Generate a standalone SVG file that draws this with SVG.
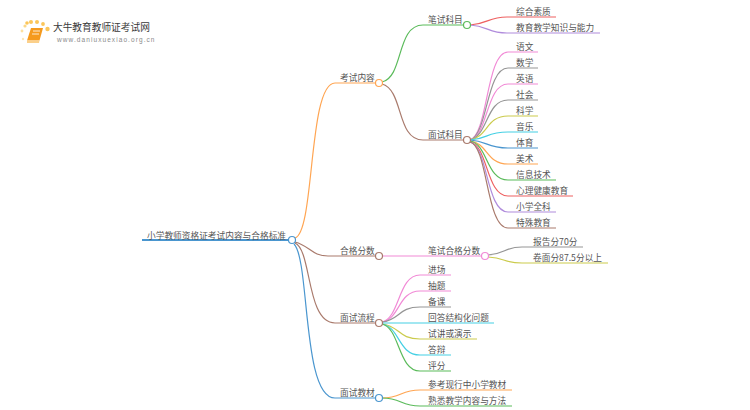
<svg xmlns="http://www.w3.org/2000/svg" width="750" height="410" viewBox="0 0 750 410">
<style>
text{font-family:"Noto Sans CJK SC","Noto Sans",sans-serif;font-size:8.7px;fill:#555}
.c path{fill:none;stroke-width:1.2}
circle{fill:#fff;stroke-width:1.2}
.or{stroke:#ffa552}.gr{stroke:#5bbb5b}.br{stroke:#a97a6c}.bl{stroke:#4a96cf}.re{stroke:#ee6060}.pu{stroke:#b08cdc}.pk{stroke:#f18ad6}.gy{stroke:#959595}.ol{stroke:#cbcb4c}.cy{stroke:#45d0e4}
</style>
<rect width="750" height="410" fill="#fff"/>
<g id="logo">
<circle cx="25" cy="26" r="1.6" style="fill:#fbd888;stroke:none"/><circle cx="22" cy="31" r="1.4" style="fill:#fce0a0;stroke:none"/><circle cx="27" cy="23" r="1.8" style="fill:#fbc65a;stroke:none"/><circle cx="31" cy="22" r="2" style="fill:#fbc65a;stroke:none"/><circle cx="37" cy="22" r="2" style="fill:#fbc65a;stroke:none"/><circle cx="43" cy="24" r="1.9" style="fill:#fbc65a;stroke:none"/><circle cx="47.500" cy="29" r="2.200" style="fill:#fbc65a;stroke:none"/><circle cx="23" cy="39" r="1.200" style="fill:#fde6b8;stroke:none"/>
<path d="M31 28H43L39.500 40.500H27Z" fill="#f59a1e"/>
<path d="M27 40.500L27 43H39L39.500 40.500Z" fill="#fbd08a"/>
<path d="M33 31H40M32 34H39" stroke="#fff" stroke-width="0.800"/>
<text x="53" y="31" style="font-size:9.700px;fill:#3a3a3a">大牛教育教师证考试网</text>
<text x="57" y="41.500" style="font-family:'Liberation Sans',sans-serif;font-size:6.500px;letter-spacing:1.080px;fill:#8a8a8a">www.daniuxuexiao.org.cn</text>
</g>
<g id="connectors" class="c">
<path class="bl" style="stroke-width:1.800" d="M142 240H288"/>
<path class="or" d="M295 238C315 232 308 83 335 83H376"/>
<path class="br" d="M295 242C310 246 312 256 328 256H376"/>
<path class="br" d="M295 243C312 250 306 323 335 323H376"/>
<path class="bl" d="M294 244C310 260 302 398 335 398H376"/>
<path class="gr" d="M382 82C404 77 396 25 423 25H464"/>
<path class="br" d="M382 84C404 90 396 140 423 140H464"/>
<path class="re" d="M470 25C488 24 488 17 507 17H556"/>
<path class="pu" d="M470 25C488 26 488 33 507 33H600"/>
<path class="pk" d="M470 140C488 135 486 52 508 52H538"/>
<path class="gy" d="M470 140C488 135 486 68 508 68H538"/>
<path class="pk" d="M470 140C488 136 486 84 508 84H538"/>
<path class="gy" d="M470 140C488 136 486 100 508 100H538"/>
<path class="ol" d="M470 140C488 137 486 116 508 116H538"/>
<path class="cy" d="M470 140C488 139 486 132 508 132H538"/>
<path class="bl" d="M470 140C488 141 486 148 508 148H538"/>
<path class="or" d="M470 141C488 143 486 164 508 164H538"/>
<path class="gr" d="M470 141C488 144 486 180 508 180H556"/>
<path class="re" d="M470 142C488 145 486 196 508 196H573"/>
<path class="pu" d="M470 142C488 146 486 212 508 212H556"/>
<path class="br" d="M470 142C488 146 486 228 508 228H556"/>
<path class="pk" d="M382 256H481"/>
<path class="gy" d="M488 255C506 254 504 247 522 247H583"/>
<path class="ol" d="M488 257C506 258 504 263 522 263H608"/>
<path class="pk" d="M382 322C400 318 398 275 420 275H451"/>
<path class="pk" d="M382 322C400 319 398 291 420 291H451"/>
<path class="gy" d="M382 322C400 320 398 307 420 307H451"/>
<path class="cy" d="M382 323H494"/>
<path class="ol" d="M382 324C400 326 398 339 420 339H477"/>
<path class="cy" d="M382 324C400 327 398 355 420 355H451"/>
<path class="gr" d="M382 324C400 328 398 371 420 371H451"/>
<path class="or" d="M382 398C402 398 400 390 420 390H512"/>
<path class="gr" d="M382 398C402 398 400 406 420 406H512"/>
</g>
<g id="root"><circle class="bl" cx="292" cy="240" r="3.500"/><text x="147" y="238.500">小学教师资格证考试内容与合格标准</text></g>
<g id="kaoshi"><circle class="or" cx="379" cy="83" r="3.500"/><text x="340" y="80.500">考试内容</text></g>
<g id="bishi"><circle class="gr" cx="467" cy="25" r="3.500"/><text x="428" y="22.500">笔试科目</text></g>
<g id="mianshi"><circle class="br" cx="467" cy="140" r="3.500"/><text x="428" y="138">面试科目</text></g>
<g id="hege"><circle class="br" cx="379" cy="256" r="3.500"/><text x="340" y="253.500">合格分数</text></g>
<g id="bishihege"><circle class="pk" cx="485" cy="256" r="3.500"/><text x="428" y="253.500">笔试合格分数</text></g>
<g id="liucheng"><circle class="br" cx="379" cy="323" r="3.500"/><text x="340" y="320.500">面试流程</text></g>
<g id="jiaocai"><circle class="bl" cx="379" cy="398" r="3.500"/><text x="340" y="396">面试教材</text></g>
<g id="leaf1"><text x="516" y="15">综合素质</text></g>
<g id="leaf2"><text x="516" y="31">教育教学知识与能力</text></g>
<g id="leaf3"><text x="516" y="50">语文</text></g>
<g id="leaf4"><text x="516" y="66">数学</text></g>
<g id="leaf5"><text x="516" y="82">英语</text></g>
<g id="leaf6"><text x="516" y="98">社会</text></g>
<g id="leaf7"><text x="516" y="114">科学</text></g>
<g id="leaf8"><text x="516" y="130">音乐</text></g>
<g id="leaf9"><text x="516" y="146">体育</text></g>
<g id="leaf10"><text x="516" y="162">美术</text></g>
<g id="leaf11"><text x="516" y="178">信息技术</text></g>
<g id="leaf12"><text x="516" y="194">心理健康教育</text></g>
<g id="leaf13"><text x="516" y="210">小学全科</text></g>
<g id="leaf14"><text x="516" y="226">特殊教育</text></g>
<g id="leaf15"><text x="533" y="245">报告分70分</text></g>
<g id="leaf16"><text x="533" y="261">卷面分87.5分以上</text></g>
<g id="leaf17"><text x="428" y="273">进场</text></g>
<g id="leaf18"><text x="428" y="289">抽题</text></g>
<g id="leaf19"><text x="428" y="305">备课</text></g>
<g id="leaf20"><text x="428" y="321">回答结构化问题</text></g>
<g id="leaf21"><text x="428" y="337">试讲或演示</text></g>
<g id="leaf22"><text x="428" y="353">答辩</text></g>
<g id="leaf23"><text x="428" y="369">评分</text></g>
<g id="leaf24"><text x="428" y="388">参考现行中小学教材</text></g>
<g id="leaf25"><text x="428" y="404">熟悉教学内容与方法</text></g>
</svg>
